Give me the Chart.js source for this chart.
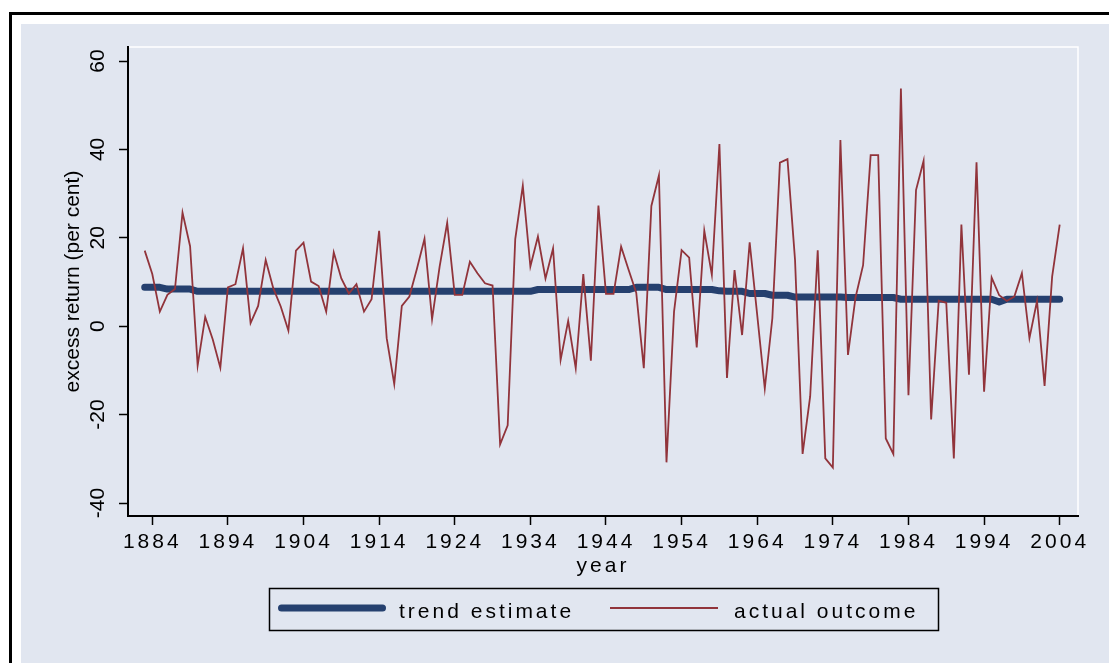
<!DOCTYPE html>
<html>
<head>
<meta charset="utf-8">
<script src="https://cdn.jsdelivr.net/npm/chart.js@4.4.1/dist/chart.umd.min.js"></script>
<style>
html,body{margin:0;padding:0;background:#ffffff;width:1109px;height:663px;overflow:hidden;}
#frame{position:absolute;left:9px;top:12px;width:1300px;height:900px;border-left:3px solid #000;border-top:3px solid #000;}
#bg{position:absolute;left:21px;top:24px;width:1300px;height:900px;background:#e1e6f0;}
#c{position:absolute;left:0;top:0;}
</style>
</head>
<body>
<div id="frame"></div>
<div id="bg"></div>
<canvas id="c" width="1109" height="663"></canvas>
<script>
const years = [1883,1884,1885,1886,1887,1888,1889,1890,1891,1892,1893,1894,1895,1896,1897,1898,1899,1900,
1901,1902,1903,1904,1905,1906,1907,1908,1909,1910,1911,1912,1913,1914,1915,1916,1917,1918,1919,1920,
1921,1922,1923,1924,1925,1926,1927,1928,1929,1930,1931,1932,1933,1934,1935,1936,1937,1938,1939,1940,
1941,1942,1943,1944,1945,1946,1947,1948,1949,1950,1951,1952,1953,1954,1955,1956,1957,1958,1959,1960,
1961,1962,1963,1964,1965,1966,1967,1968,1969,1970,1971,1972,1973,1974,1975,1976,1977,1978,1979,1980,
1981,1982,1983,1984,1985,1986,1987,1988,1989,1990,1991,1992,1993,1994,1995,1996,1997,1998,1999,2000,
2001,2002,2003,2004];

const actualOutcome = [17.1,11.8,3.3,7.1,8.4,25.7,18.1,-8.9,2.1,-3.0,-9.4,8.8,9.5,17.6,0.7,4.6,15.0,8.6,
4.4,-1.0,17.1,18.9,10.1,9.1,3.3,16.7,10.8,7.4,9.5,3.3,6.1,21.6,-2.7,-13.1,4.6,6.7,13.0,19.8,
1.6,13.5,23.4,7.1,7.1,14.6,12.0,9.7,9.2,-26.7,-22.4,19.7,31.8,13.5,20.3,10.8,17.6,-7.6,1.2,-9.5,
11.8,-7.8,27.3,7.3,7.3,18.0,12.7,7.6,-9.5,27.2,34.1,-30.8,3.3,17.2,15.5,-4.8,21.6,11.6,41.2,-11.7,
12.7,-2.0,19.0,2.5,-14.1,1.8,37.0,37.8,15.0,-28.9,-15.9,17.2,-29.9,-32.0,42.1,-6.5,6.5,13.8,38.7,38.7,
-25.4,-28.9,53.8,-15.6,30.8,37.4,-21.1,5.8,5.3,-29.9,23.0,-11.0,37.1,-14.8,11.0,7.0,5.7,6.7,12.0,-2.7,
5.7,-13.5,11.2,23.0];

const trendEstimate = [8.8,8.8,8.8,8.4,8.4,8.4,8.4,7.9,7.9,7.9,7.9,7.9,7.9,7.9,7.9,7.9,7.9,7.9,
7.9,7.9,7.9,7.9,7.9,7.9,7.9,7.9,7.9,7.9,7.9,7.9,7.9,7.9,7.9,7.9,7.9,7.9,7.9,7.9,
7.9,7.9,7.9,7.9,7.9,7.9,7.9,7.9,7.9,7.9,7.9,7.9,7.9,7.9,8.3,8.3,8.3,8.3,8.3,8.3,
8.3,8.3,8.3,8.3,8.3,8.3,8.3,8.8,8.8,8.8,8.8,8.3,8.3,8.3,8.3,8.3,8.3,8.3,8.0,7.9,
7.9,7.9,7.4,7.4,7.4,7.0,7.0,7.0,6.6,6.6,6.6,6.6,6.6,6.6,6.6,6.5,6.5,6.5,6.5,6.5,
6.5,6.5,6.1,6.1,6.1,6.1,6.1,6.1,6.1,6.1,6.1,6.1,6.1,6.1,6.1,5.5,6.1,6.1,6.1,6.1,
6.1,6.1,6.1,6.1];

const xTickYears = [1884,1894,1904,1914,1924,1934,1944,1954,1964,1974,1984,1994,2004];
const yTickValues = [-40,-20,0,20,40,60];
const seriesNames = ['trend estimate','actual outcome'];

const NAVY = '#25406f';
const MAROON = '#91343b';
const FONT = 'Liberation Sans, Arial, Helvetica, sans-serif';
const SPACING = '3px';

const spacingPlugin = {
  id: 'spacing',
  beforeUpdate(chart){ chart.ctx.letterSpacing = SPACING; },
  beforeLayout(chart){ chart.ctx.letterSpacing = SPACING; },
  afterLayout(chart){
    const ys = chart.scales.y;
    if (ys && !ys._noSpacingPatched) {
      const ctx = chart.ctx;
      const origLabels = ys.drawLabels;
      const origTitle = ys.drawTitle;
      ys.drawLabels = function(ca){ ctx.letterSpacing = '0px'; origLabels.call(this, ca); ctx.letterSpacing = SPACING; };
      ys.drawTitle = function(ca){ ctx.letterSpacing = '0px'; origTitle.call(this, ca); ctx.letterSpacing = SPACING; };
      ys._noSpacingPatched = true;
    }
  },
  beforeDraw(chart){ chart.ctx.letterSpacing = SPACING; }
};

const frameLegendPlugin = {
  id: 'frameLegend',
  beforeDatasetsDraw(chart){
    const {ctx, chartArea:a} = chart;
    ctx.save();
    ctx.strokeStyle = '#ffffff';
    ctx.lineWidth = 1.5;
    ctx.beginPath();
    ctx.moveTo(a.left + 1, a.top);
    ctx.lineTo(a.right, a.top);
    ctx.lineTo(a.right, a.bottom - 1);
    ctx.stroke();
    ctx.restore();
  },
  afterDraw(chart){
    const ctx = chart.ctx;
    ctx.save();
    ctx.letterSpacing = SPACING;
    ctx.strokeStyle = '#000';
    ctx.lineWidth = 1.5;
    ctx.strokeRect(269.5, 588.5, 669, 42);
    ctx.strokeStyle = NAVY;
    ctx.lineWidth = 7;
    ctx.lineCap = 'round';
    ctx.beginPath(); ctx.moveTo(281.5, 608); ctx.lineTo(382.5, 608); ctx.stroke();
    ctx.strokeStyle = MAROON;
    ctx.lineWidth = 2;
    ctx.lineCap = 'butt';
    ctx.beginPath(); ctx.moveTo(610, 608); ctx.lineTo(718, 608); ctx.stroke();
    ctx.fillStyle = '#000';
    ctx.font = '21px ' + FONT;
    ctx.textBaseline = 'alphabetic';
    ctx.textAlign = 'left';
    ctx.fillText(seriesNames[0], 399, 618);
    ctx.fillText(seriesNames[1], 734, 618);
    ctx.restore();
  }
};

new Chart(document.getElementById('c'), {
  type: 'line',
  data: {
    datasets: [
      {
        label: seriesNames[0],
        data: years.map((y, i) => ({x: y, y: trendEstimate[i]})),
        borderColor: NAVY,
        borderWidth: 7,
        borderCapStyle: 'round',
        borderJoinStyle: 'round',
        pointRadius: 0,
        tension: 0,
        fill: false,
        order: 2
      },
      {
        label: seriesNames[1],
        data: years.map((y, i) => ({x: y, y: actualOutcome[i]})),
        borderColor: MAROON,
        borderWidth: 1.8,
        borderJoinStyle: 'miter',
        pointRadius: 0,
        tension: 0,
        fill: false,
        order: 1
      }
    ]
  },
  options: {
    responsive: false,
    devicePixelRatio: 1,
    animation: false,
    events: [],
    layout: { padding: { left: 40, top: 47, right: 31, bottom: 0 } },
    plugins: { legend: { display: false }, tooltip: { enabled: false } },
    scales: {
      x: {
        type: 'linear',
        position: 'bottom',
        min: 1880.79,
        max: 2006.42,
        afterBuildTicks(scale){ scale.ticks = xTickYears.map(v => ({value: v})); },
        afterFit(scale){ scale.height = 147; },
        grid: { drawOnChartArea: false, drawTicks: true, tickLength: 9, tickColor: '#000', tickWidth: 1.5 },
        border: { display: true, color: '#000', width: 2 },
        ticks: {
          autoSkip: false, maxRotation: 0, minRotation: 0, padding: 5,
          color: '#000', font: { family: FONT, size: 21 },
          callback: v => String(v)
        },
        title: { display: true, text: 'year', color: '#000', font: { family: FONT, size: 21 }, padding: { top: 0, bottom: 84 } }
      },
      y: {
        type: 'linear',
        position: 'left',
        min: -42.94,
        max: 63.17,
        afterBuildTicks(scale){ scale.ticks = yTickValues.map(v => ({value: v})); },
        afterFit(scale){ scale.width = 88; },
        grid: { drawOnChartArea: false, drawTicks: true, tickLength: 9, tickColor: '#000', tickWidth: 1.5 },
        border: { display: true, color: '#000', width: 2 },
        ticks: {
          autoSkip: false, minRotation: 90, maxRotation: 90, crossAlign: 'center', padding: 1,
          color: '#000', font: { family: FONT, size: 21 },
          callback: v => String(v)
        },
        title: { display: true, text: 'excess return (per cent)', color: '#000', font: { family: FONT, size: 21 }, padding: { top: 21, bottom: 0 } }
      }
    }
  },
  plugins: [spacingPlugin, frameLegendPlugin]
});
</script>
</body>
</html>
